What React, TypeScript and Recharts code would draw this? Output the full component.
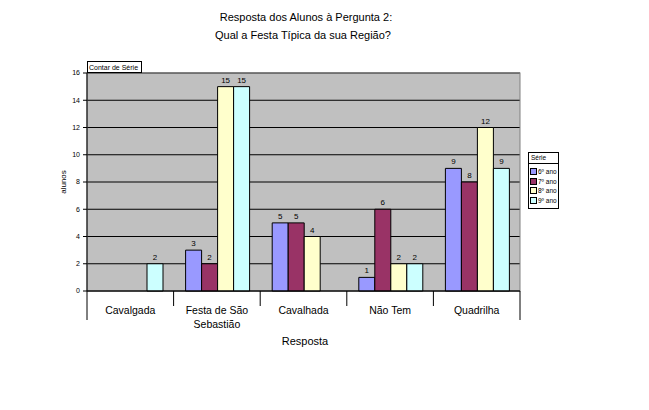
import React from 'react';
import { BarChart, Bar, XAxis, YAxis, CartesianGrid, LabelList, usePlotArea } from 'recharts';

const categories = ['Cavalgada', 'Festa de São Sebastião', 'Cavalhada', 'Não Tem', 'Quadrilha'];
const ano6: (number | null)[] = [null, 3, 5, 1, 9];
const ano7: (number | null)[] = [null, 2, 5, 6, 8];
const ano8: (number | null)[] = [null, 15, 4, 2, 12];
const ano9: (number | null)[] = [2, 15, null, 2, 9];
const seriesNames = ['6º ano', '7º ano', '8º ano', '9º ano'];
const seriesColors = ['#9999FF', '#993366', '#FFFFCC', '#CCFFFF'];
const yTicks = [0, 2, 4, 6, 8, 10, 12, 14, 16];

const data = categories.map((c, i) => ({
  name: c,
  a6: ano6[i],
  a7: ano7[i],
  a8: ano8[i],
  a9: ano9[i],
}));
const keys = ['a6', 'a7', 'a8', 'a9'];

const FONT = '"Liberation Sans", Arial, sans-serif';

const labelLines: Record<string, string[]> = {
  'Festa de São Sebastião': ['Festa de São', 'Sebastião'],
};

const CatTick = (props: any) => {
  const { x, y, payload } = props;
  const lines = labelLines[payload.value] || [payload.value];
  return (
    <g>
      {lines.map((l, i) => (
        <text key={i} x={x} y={y + 15 + i * 14} textAnchor="middle" fontSize={10.5} fontFamily={FONT} fill="#000">
          {l}
        </text>
      ))}
    </g>
  );
};

const PlotFrame = () => {
  const pa = usePlotArea();
  if (!pa) return null;
  const n = categories.length;
  const step = pa.width / n;
  const bottom = pa.y + pa.height;
  const lines = [];
  for (let i = 0; i <= n; i++) {
    const x = pa.x + i * step;
    const outer = i === 0 || i === n;
    lines.push(<line key={i} x1={x} x2={x} y1={bottom} y2={bottom + (outer ? 29 : 15)} stroke="#000" strokeWidth={1} />);
  }
  return (
    <g>
      <rect x={pa.x} y={pa.y} width={pa.width} height={pa.height} fill="none" stroke="#808080" strokeWidth={1} />
      {lines}
    </g>
  );
};

const LegendBox = () => (
  <div
    style={{
      position: 'absolute',
      left: 528,
      top: 152,
      fontFamily: FONT,
      fontSize: 6.5,
      background: '#fff',
      border: '1px solid #000',
      width: 29,
      lineHeight: '9.5px',
      whiteSpace: 'nowrap',
      overflow: 'hidden',
    }}
  >
    <div style={{ borderBottom: '1px solid #000', padding: '0px 1px 0px 2px', height: 10 }}>Série</div>
    <div style={{ padding: '3px 0px 3px 1px' }}>
      {seriesNames.map((s, i) => (
        <div key={s} style={{ display: 'flex', alignItems: 'center', height: 9.5 }}>
          <span
            style={{
              display: 'inline-block',
              width: 5,
              height: 5,
              background: seriesColors[i],
              border: '1px solid #000',
              marginRight: 1,
              flex: 'none',
            }}
          />
          <span>{s}</span>
        </div>
      ))}
    </div>
  </div>
);

export default function App() {
  return (
    <div style={{ position: 'absolute', left: 0, top: 0, width: 649, height: 410, background: '#fff' }}>
      <BarChart
        width={649}
        height={410}
        data={data}
        margin={{ top: 73, left: 57, right: 129, bottom: 89 }}
        barCategoryGap={12}
        barGap={0}
      >
        <CartesianGrid vertical={false} horizontal={true} stroke="#000" fill="#C0C0C0" fillOpacity={1} />
        <XAxis dataKey="name" height={30} tickLine={false} axisLine={{ stroke: '#000' }} tick={<CatTick />} interval={0} />
        <YAxis
          width={30}
          domain={[0, 16]}
          ticks={yTicks}
          interval={0}
          tickSize={4}
          tickMargin={3}
          axisLine={{ stroke: '#000' }}
          tickLine={{ stroke: '#000' }}
          tick={{ fontSize: 7, fill: '#000', fontFamily: FONT }}
        />
        <PlotFrame />
        {keys.map((k, i) => (
          <Bar key={k} dataKey={k} name={seriesNames[i]} fill={seriesColors[i]} stroke="#000" strokeWidth={1} isAnimationActive={false}>
            <LabelList dataKey={k} position="top" offset={4} style={{ fontSize: 8, fill: '#000', fontFamily: FONT }} />
          </Bar>
        ))}
      </BarChart>
      <svg width={649} height={410} style={{ position: 'absolute', left: 0, top: 0, pointerEvents: 'none' }}>
        <text x={306} y={21} textAnchor="middle" fontSize={11} fontFamily={FONT} fill="#000">Resposta dos Alunos à Pergunta 2:</text>
        <text x={303} y={39} textAnchor="middle" fontSize={11} fontFamily={FONT} fill="#000">Qual a Festa Típica da sua Região?</text>
        <text x={305} y={345} textAnchor="middle" fontSize={11} fontFamily={FONT} fill="#000">Resposta</text>
        <text x={66} y={182} textAnchor="middle" fontSize={8} fontFamily={FONT} fill="#000" transform="rotate(-90 66 182)">alunos</text>
        <rect x={87.5} y={61.5} width={54} height={11} fill="#fff" stroke="#000" />
        <text x={89} y={70} fontSize={7} fontFamily={FONT} fill="#000">Contar de Série</text>
      </svg>
      <LegendBox />
    </div>
  );
}
